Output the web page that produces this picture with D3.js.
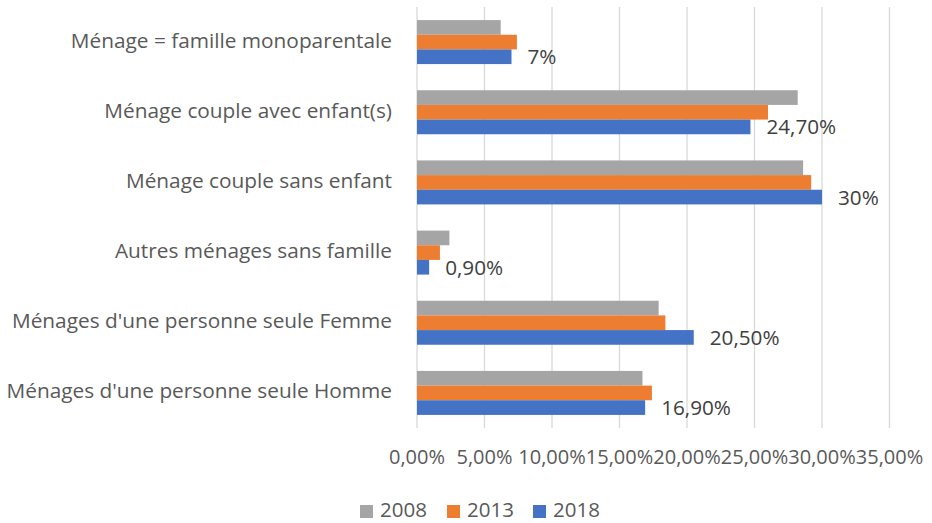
<!DOCTYPE html>
<html>
<head>
<meta charset="utf-8">
<script src="https://cdn.jsdelivr.net/npm/d3@7"></script>
<style>
  html, body { margin: 0; padding: 0; background: #fff; }
  svg { display: block; font-family: "Open Sans", "Liberation Sans", sans-serif; }
</style>
</head>
<body>
<svg id="chart" width="932" height="523"></svg>
<script>
const categories = [
  "Ménage = famille monoparentale",
  "Ménage couple avec enfant(s)",
  "Ménage couple sans enfant",
  "Autres ménages sans famille",
  "Ménages d'une personne seule Femme",
  "Ménages d'une personne seule Homme"
];
const seriesNames = ["2008", "2013", "2018"];
const values2008 = [6.2, 28.2, 28.6, 2.4, 17.9, 16.7];
const values2013 = [7.4, 26.0, 29.2, 1.7, 18.4, 17.4];
const values2018 = [7.0, 24.7, 30.0, 0.9, 20.5, 16.9];
const labels2018 = ["7%", "24,70%", "30%", "0,90%", "20,50%", "16,90%"];
const xTicks = [0, 5, 10, 15, 20, 25, 30, 35];
const xTickLabels = ["0,00%", "5,00%", "10,00%", "15,00%", "20,00%", "25,00%", "30,00%", "35,00%"];
const colors = ["#A5A5A5", "#ED7D31", "#4472C4"];

const seriesValues = [values2008, values2013, values2018];
const svg = d3.select("#chart");
const textColor = "#595959";

const x = d3.scaleLinear().domain([0, 35]).range([417, 889.5]);
const y = d3.scaleBand().domain(categories).range([7, 428]).paddingInner(0.373).paddingOuter(0.1865);
const ySub = d3.scaleBand().domain(seriesNames).range([0, y.bandwidth()]);

// gridlines
svg.append("g").selectAll("line").data(xTicks).join("line")
  .attr("x1", d => x(d)).attr("x2", d => x(d))
  .attr("y1", 7).attr("y2", 428)
  .attr("stroke", "#D9D9D9").attr("stroke-width", 1.3);

// bars
seriesNames.forEach((s, si) => {
  svg.append("g").selectAll("rect").data(categories).join("rect")
    .attr("x", x(0))
    .attr("y", c => y(c) + ySub(s))
    .attr("width", (c, i) => x(seriesValues[si][i]) - x(0))
    .attr("height", ySub.bandwidth())
    .attr("fill", colors[si]);
});

// data labels for 2018
svg.append("g").selectAll("text").data(categories).join("text")
  .attr("x", (c, i) => x(values2018[i]) + 16)
  .attr("y", c => y(c) + ySub("2018") + ySub.bandwidth() / 2 + 2)
  .attr("dominant-baseline", "middle")
  .attr("fill", "#404040")
  .attr("font-size", 20.7)
  .text((c, i) => labels2018[i]);

// category labels
svg.append("g").selectAll("text").data(categories).join("text")
  .attr("x", 392)
  .attr("y", c => y(c) + ySub("2013") + ySub.bandwidth() / 2)
  .attr("text-anchor", "end")
  .attr("dominant-baseline", "middle")
  .attr("fill", textColor)
  .attr("font-size", 20.8)
  .text(c => c);

// x tick labels
svg.append("g").selectAll("text").data(xTicks).join("text")
  .attr("x", d => x(d))
  .attr("y", 459)
  .attr("text-anchor", "middle")
  .attr("dominant-baseline", "middle")
  .attr("fill", textColor)
  .attr("font-size", 20)
  .text((d, i) => xTickLabels[i]);

// legend
const legendX = [360, 447, 533];
const lg = svg.append("g");
seriesNames.forEach((s, i) => {
  lg.append("rect").attr("x", legendX[i]).attr("y", 505).attr("width", 13).attr("height", 13).attr("fill", colors[i]);
  lg.append("text").attr("x", legendX[i] + 20).attr("y", 512)
    .attr("dominant-baseline", "middle").attr("fill", textColor).attr("font-size", 20.5).text(s);
});
</script>
</body>
</html>
